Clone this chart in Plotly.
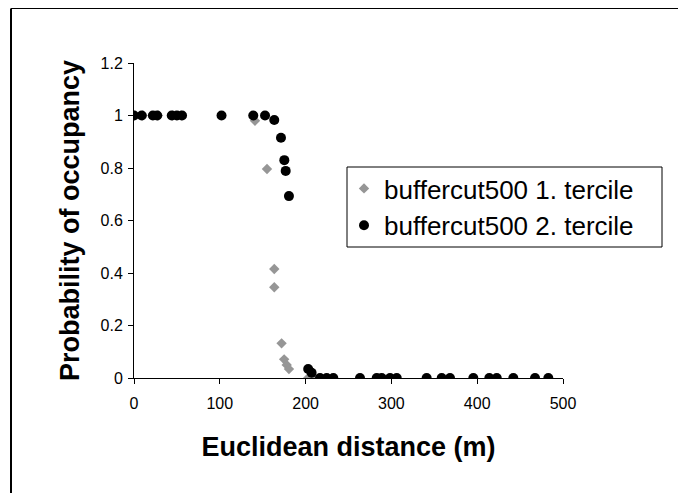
import plotly.graph_objects as go

# Series 1: buffercut500 1. tercile (gray diamonds)
t1_x = [0, 10, 28, 45, 55, 141, 155, 163.5, 163.5, 172, 175, 178, 180.6, 203, 206, 209]
t1_y = [1, 1, 1, 1, 1, 0.98, 0.796, 0.415, 0.346, 0.132, 0.071, 0.05, 0.034, 0, 0, 0]

# Series 2: buffercut500 2. tercile (black circles)
t2_x = [0, 9, 22, 27, 44, 50, 56, 102, 139, 152.7, 163.5, 171.3, 175.2, 176.8, 180.6,
        203, 207, 216.8, 224.6, 232.3, 263.4, 282.9, 288.7, 298.4, 306.2, 341.1,
        358.6, 368.3, 395.5, 414.1, 422.8, 442.1, 467.4, 482.9]
t2_y = [1, 1, 1, 1, 1, 1, 1, 1, 1, 1, 0.983, 0.915, 0.83, 0.789, 0.693,
        0.034, 0.02, 0, 0, 0, 0, 0, 0, 0, 0, 0,
        0, 0, 0, 0, 0, 0, 0, 0]

x_ticks = [0, 100, 200, 300, 400, 500]
y_ticks = [0, 0.2, 0.4, 0.6, 0.8, 1.0, 1.2]
y_tick_text = ["0", "0.2", "0.4", "0.6", "0.8", "1", "1.2"]

FONT = "Liberation Sans, Arial, Helvetica, sans-serif"

fig = go.Figure()
fig.add_trace(go.Scatter(
    x=t1_x, y=t1_y, mode="markers", name="buffercut500 1. tercile",
    marker=dict(symbol="diamond", size=8, color="#969696"),
))
fig.add_trace(go.Scatter(
    x=t2_x, y=t2_y, mode="markers", name="buffercut500 2. tercile",
    marker=dict(symbol="circle", size=10, color="black"),
))

W, H = 686, 493
# page body adds an 8px offset
L, R, T, B = 126, 131, 55, 123
PW, PH = W - L - R, H - T - B
OFF = 8  # screen offset


def px(sx):
    return (sx - OFF - L) / PW


def py(sy):
    return (H - B - (sy - OFF)) / PH


fig.update_layout(
    width=W, height=H,
    margin=dict(l=L, r=R, t=T, b=B, autoexpand=False),
    paper_bgcolor="white", plot_bgcolor="white",
    font=dict(family=FONT, color="black", size=16),
    showlegend=True,
    legend=dict(
        x=px(344), y=py(165), xanchor="left", yanchor="top",
        borderwidth=0, bgcolor="rgba(0,0,0,0)",
        font=dict(size=26, family=FONT),
        itemsizing="trace",
        tracegroupgap=0,
    ),
    xaxis=dict(
        range=[0, 500], tickvals=x_ticks, ticktext=[str(v) for v in x_ticks],
        showgrid=False, zeroline=False, showline=True, linecolor="black", linewidth=1,
        ticks="outside", ticklen=5, tickcolor="black", tickwidth=1,
        tickfont=dict(size=16), ticklabelstandoff=6,
        title=dict(text="<b>Euclidean distance (m)</b>", font=dict(size=27), standoff=25),
        automargin=False,
    ),
    yaxis=dict(
        range=[0, 1.2], tickvals=y_ticks, ticktext=y_tick_text,
        showgrid=False, zeroline=False, showline=True, linecolor="black", linewidth=1,
        ticks="outside", ticklen=5, tickcolor="black", tickwidth=1,
        tickfont=dict(size=16), ticklabelstandoff=2,
        title=dict(text="<b>Probability of occupancy</b>", font=dict(size=27), standoff=13),
        automargin=False,
    ),
    shapes=[
        # outer chart border (top and left visible)
        dict(type="line", xref="paper", yref="paper",
             x0=(3 - L) / PW, x1=1.5,
             y0=(H - B - 0.5) / PH, y1=(H - B - 0.5) / PH,
             line=dict(color="black", width=1)),
        dict(type="line", xref="paper", yref="paper",
             x0=(3 - L) / PW, x1=(3 - L) / PW,
             y0=-1, y1=(H - B - 0.5) / PH,
             line=dict(color="black", width=2)),
        # legend frame
        dict(type="rect", xref="paper", yref="paper",
             x0=px(347), x1=px(662), y0=py(247), y1=py(167),
             line=dict(color="black", width=1), fillcolor="white", layer="above"),
    ],
)

fig.write_html("out.html")
